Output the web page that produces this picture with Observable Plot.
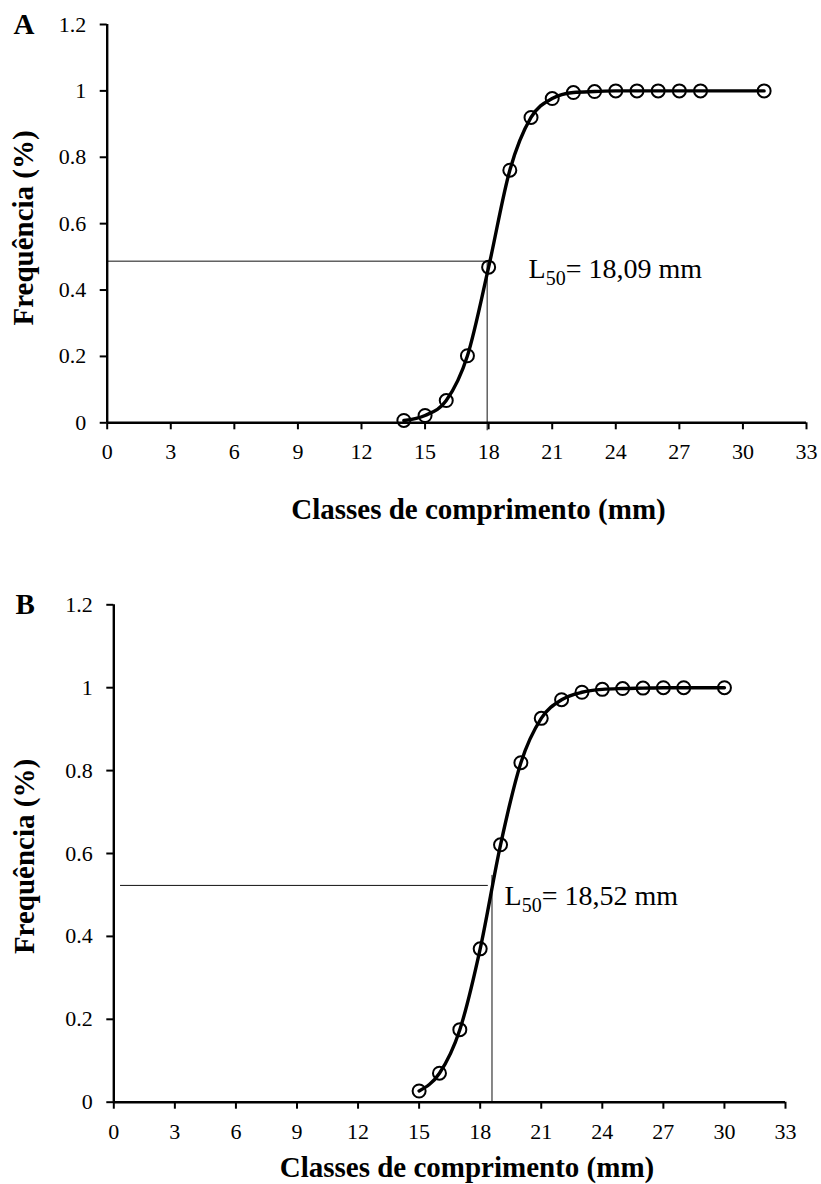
<!DOCTYPE html>
<html>
<head>
<meta charset="utf-8">
<script src="https://cdn.jsdelivr.net/npm/d3@7"></script>
<script src="https://cdn.jsdelivr.net/npm/@observablehq/plot@0.6"></script>
<style>
  html, body { margin: 0; padding: 0; background: #fff; }
  #chart svg { display: block; }
</style>
</head>
<body>
<div id="chart"></div>
<script>
// ---- data ----
const xTicks = [0, 3, 6, 9, 12, 15, 18, 21, 24, 27, 30, 33];
const yTicks = [0, 0.2, 0.4, 0.6, 0.8, 1, 1.2];
const xTitle = "Classes de comprimento (mm)";
const yTitle = "Frequência (%)";

// Panel A
const lengthA = [14, 15, 16, 17, 18, 19, 20, 21, 22, 23, 24, 25, 26, 27, 28, 31];
const freqA   = [0.007, 0.022, 0.067, 0.202, 0.469, 0.761, 0.920, 0.977, 0.995, 0.998, 1, 1, 1, 1, 1, 1];
const guideHA = [{y: 0.487, x1: 0, x2: 17.95}];
const guideVA = [{x: 17.93, y1: -0.024, y2: 0.487}];
const l50A = [{x: 17.93, y: 0.487, text: "L50= 18,09 mm"}];

// Panel B
const lengthB = [15, 16, 17, 18, 19, 20, 21, 22, 23, 24, 25, 26, 27, 28, 30];
const freqB   = [0.027, 0.070, 0.175, 0.370, 0.621, 0.819, 0.926, 0.971, 0.989, 0.996, 0.998, 0.999, 1, 1, 1];
const guideHB = [{y: 0.523, x1: 0.33, x2: 18.4}];
const guideVB = [{x: 18.58, y1: 0, y2: 0.547}];
const l50B = [{x: 18.58, y: 0.523, text: "L50= 18,52 mm"}];

// ---- drawing ----
const FONT = '"Liberation Serif", "Times New Roman", serif';

function panel(cfg) {
  const pts = cfg.xs.map((x, i) => ({x, y: cfg.ys[i]}));
  return Plot.plot({
    width: 821,
    height: cfg.height,
    marginTop: cfg.mt, marginBottom: cfg.mb, marginLeft: cfg.ml, marginRight: cfg.mr,
    style: {fontFamily: FONT, fontSize: "22px", color: "#000", background: "#fff", overflow: "visible"},
    x: {domain: [0, 33]},
    y: {domain: [0, 1.2]},
    marks: [
      Plot.ruleY(cfg.gh, {y: "y", x1: "x1", x2: "x2", stroke: "#111", strokeWidth: 1}),
      Plot.ruleX(cfg.gv, {x: "x", y1: "y1", y2: "y2", stroke: "#111", strokeWidth: 1}),
      Plot.line(pts, {x: "x", y: "y", curve: "monotone-x", stroke: "#000", strokeWidth: 3.4}),
      Plot.dot(pts, {x: "x", y: "y", r: 6.5, stroke: "#000", strokeWidth: 2, fill: "none"}),
      Plot.ruleX([0], {y1: 0, y2: 1.2, stroke: "#000", strokeWidth: 2.4}),
      Plot.ruleY([0], {x1: 0, x2: 33, stroke: "#000", strokeWidth: 2.6}),
      Plot.axisX({ticks: xTicks, tickSize: 7, tickPadding: 14, strokeWidth: 2, fontSize: 22,
                  label: null, tickFormat: d => String(d)}),
      Plot.axisY({ticks: yTicks, tickSize: 7, tickPadding: 14, strokeWidth: 2, fontSize: 22,
                  label: null, tickFormat: d => String(d)}),
      Plot.text([xTitle], {frameAnchor: "bottom", textAnchor: "middle", lineAnchor: "bottom",
                           dx: cfg.xtDx, dy: cfg.xtDy, fontWeight: "bold", fontSize: 29}),
      Plot.text([yTitle], {frameAnchor: "left", rotate: -90, textAnchor: "middle", lineAnchor: "middle",
                           dx: cfg.ytDx, dy: cfg.ytDy, fontWeight: "bold", fontSize: 29}),
      Plot.text([cfg.letter], {frameAnchor: "top-left", textAnchor: "start", lineAnchor: "bottom",
                               dx: cfg.lDx, dy: cfg.lDy, fontWeight: "bold", fontSize: 29}),
      Plot.text(cfg.l50, {x: "x", y: "y", text: "text", textAnchor: "start", lineAnchor: "bottom",
                          dx: cfg.aDx, dy: cfg.aDy, fontSize: 28})
    ]
  });
}

const chart = document.getElementById("chart");
const svgA = panel({
  letter: "A", xs: lengthA, ys: freqA, gh: guideHA, gv: guideVA, l50: l50A,
  height: 560, mt: 24, mb: 137.7, ml: 106.7, mr: 15,
  xtDx: 21.6, xtDy: 95.7, ytDx: -83, ytDy: 4.3, lDx: -93.7, lDy: 9, aDx: 41.4, aDy: 17.2
});
const svgB = panel({
  letter: "B", xs: lengthB, ys: freqB, gh: guideHB, gv: guideVB, l50: l50B,
  height: 624, mt: 44.3, mb: 82.3, ml: 113.3, mr: 36,
  xtDx: 17.3, xtDy: 75, ytDx: -89.3, ytDy: 3, lDx: -98.3, lDy: 8.7, aDx: 12.6, aDy: 20
});
chart.appendChild(svgA);
chart.appendChild(svgB);

// subscript "50" in the L50 labels
const NS = "http://www.w3.org/2000/svg";
for (const t of chart.querySelectorAll("text")) {
  const s = t.textContent;
  if (!s.startsWith("L50")) continue;
  t.textContent = "";
  const a = document.createElementNS(NS, "tspan"); a.textContent = "L";
  const b = document.createElementNS(NS, "tspan"); b.textContent = "50";
  b.setAttribute("dy", "7"); b.setAttribute("font-size", "20");
  const c = document.createElementNS(NS, "tspan"); c.textContent = s.slice(3);
  c.setAttribute("dy", "-7");
  t.append(a, b, c);
}
</script>
</body>
</html>
